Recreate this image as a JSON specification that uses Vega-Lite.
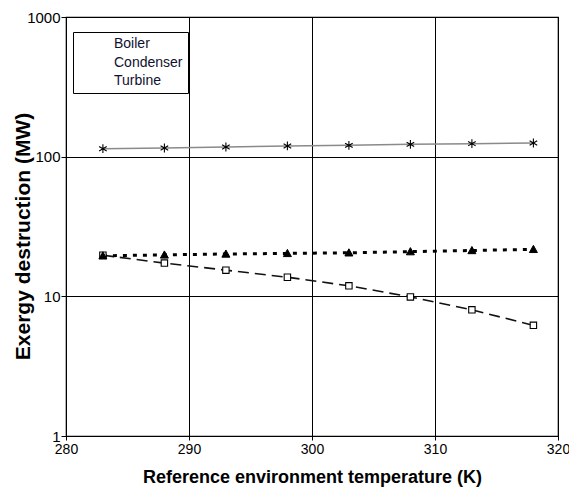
{
  "$schema": "https://vega.github.io/schema/vega-lite/v6.json",
  "width": 492,
  "height": 419,
  "autosize": "none",
  "padding": {"left": 66, "top": 17, "right": 11, "bottom": 52},
  "background": "white",
  "config": {
    "font": "Liberation Sans",
    "view": {"stroke": "black", "strokeWidth": 1.2},
    "axis": {
      "domainColor": "black",
      "tickColor": "black",
      "gridColor": "black",
      "gridOpacity": 1,
      "gridWidth": 1,
      "labelColor": "black",
      "labelFont": "Liberation Sans",
      "titleFont": "Liberation Sans",
      "titleFontWeight": "bold",
      "titleColor": "black"
    }
  },
  "data": {
    "values": [
      {"T": 283, "series": "Boiler", "value": 114},
      {"T": 288, "series": "Boiler", "value": 115.4},
      {"T": 293, "series": "Boiler", "value": 117.3},
      {"T": 298, "series": "Boiler", "value": 119.3},
      {"T": 303, "series": "Boiler", "value": 120.5},
      {"T": 308, "series": "Boiler", "value": 122.5},
      {"T": 313, "series": "Boiler", "value": 123.9},
      {"T": 318, "series": "Boiler", "value": 125.3},
      {"T": 283, "series": "Condenser", "value": 19.7},
      {"T": 288, "series": "Condenser", "value": 17.3},
      {"T": 293, "series": "Condenser", "value": 15.4},
      {"T": 298, "series": "Condenser", "value": 13.7},
      {"T": 303, "series": "Condenser", "value": 11.9},
      {"T": 308, "series": "Condenser", "value": 9.9},
      {"T": 313, "series": "Condenser", "value": 8.0},
      {"T": 318, "series": "Condenser", "value": 6.2},
      {"T": 283, "series": "Turbine", "value": 19.5},
      {"T": 288, "series": "Turbine", "value": 19.8},
      {"T": 293, "series": "Turbine", "value": 20.1},
      {"T": 298, "series": "Turbine", "value": 20.3},
      {"T": 303, "series": "Turbine", "value": 20.5},
      {"T": 308, "series": "Turbine", "value": 20.9},
      {"T": 313, "series": "Turbine", "value": 21.3},
      {"T": 318, "series": "Turbine", "value": 21.7}
    ]
  },
  "encoding": {
    "x": {
      "field": "T",
      "type": "quantitative",
      "scale": {"domain": [280, 320], "nice": false, "zero": false},
      "axis": {
        "values": [280, 290, 300, 310, 320],
        "title": "Reference environment temperature (K)",
        "labelFontSize": 14,
        "titleFontSize": 18,
        "titleBaseline": "alphabetic",
        "titleY": 46,
        "tickSize": 4,
        "labelPadding": 2,
        "labelFlush": false
      }
    },
    "y": {
      "field": "value",
      "type": "quantitative",
      "scale": {"type": "log", "domain": [1, 1000], "nice": false},
      "axis": {
        "values": [1, 10, 100, 1000],
        "format": "d",
        "title": "Exergy destruction (MW)",
        "labelFontSize": 15,
        "titleFontSize": 21,
        "titleBaseline": "alphabetic",
        "titleAngle": -90,
        "titleAlign": "center",
        "titleX": -37,
        "titleY": 219,
        "tickSize": 5,
        "labelPadding": 1
      }
    }
  },
  "layer": [
    {
      "transform": [{"filter": "datum.series === 'Boiler'"}],
      "mark": {"type": "line", "color": "#8a8a8a", "strokeWidth": 1.5},
      "encoding": {}
    },
    {
      "transform": [{"filter": "datum.series === 'Condenser'"}],
      "mark": {"type": "line", "color": "#111111", "strokeWidth": 1.6, "strokeDash": [11, 6]},
      "encoding": {}
    },
    {
      "transform": [{"filter": "datum.series === 'Turbine'"}],
      "mark": {"type": "line", "color": "#000000", "strokeWidth": 3, "strokeDash": [4, 6]},
      "encoding": {}
    },
    {
      "mark": {"type": "point", "filled": false, "fill": "white", "stroke": "black", "strokeWidth": 1.5, "opacity": 0, "size": 64},
      "encoding": {
        "shape": {
          "field": "series",
          "scale": {
            "domain": ["Boiler", "Condenser", "Turbine"],
            "range": [
              "M-4,0H4M0,-1V1M-0.87,-0.5L0.87,0.5M-0.87,0.5L0.87,-0.5",
              "M-4,0H-0.8M0.8,0H4M-0.8,-0.8H0.8V0.8H-0.8Z",
              "M-4,0H-3.2M-2.4,0H-1.6M1.6,0H2.4M3.2,0H4M-1,0.8L0,-0.9L1,0.8ZM-0.6,0.55L0,-0.4L0.6,0.55ZM-0.25,0.4L0,0L0.25,0.4Z"
            ]
          },
          "legend": {
            "title": null,
            "orient": "none",
            "legendX": 7,
            "legendY": 15,
            "strokeColor": "black",
            "fillColor": "white",
            "padding": 5,
            "labelFontSize": 14,
            "labelColor": "#101030",
            "labelFont": "Liberation Sans",
            "symbolSize": 64,
            "symbolStrokeWidth": 1.5,
            "symbolOpacity": 1,
            "symbolStrokeColor": "black",
            "symbolFillColor": "white",
            "symbolOffset": 14,
            "labelOffset": 8,
            "rowPadding": 4.5
          }
        }
      }
    },
    {
      "transform": [{"filter": "datum.series === 'Boiler'"}],
      "mark": {"type": "point", "shape": "M0,-1.1V1.1M-0.95,-0.55L0.95,0.55M-0.95,0.55L0.95,-0.55", "filled": false, "stroke": "black", "strokeWidth": 1.1, "opacity": 1, "size": 64},
      "encoding": {}
    },
    {
      "transform": [{"filter": "datum.series === 'Condenser'"}],
      "mark": {"type": "point", "shape": "M-0.8,-0.8H0.8V0.8H-0.8Z", "filled": false, "fill": "white", "stroke": "black", "strokeWidth": 1.1, "opacity": 1, "size": 64},
      "encoding": {}
    },
    {
      "transform": [{"filter": "datum.series === 'Turbine'"}],
      "mark": {"type": "point", "shape": "M-1,0.8L0,-1L1,0.8Z", "filled": true, "color": "black", "stroke": "black", "strokeWidth": 1, "opacity": 1, "size": 64},
      "encoding": {}
    }
  ]
}
